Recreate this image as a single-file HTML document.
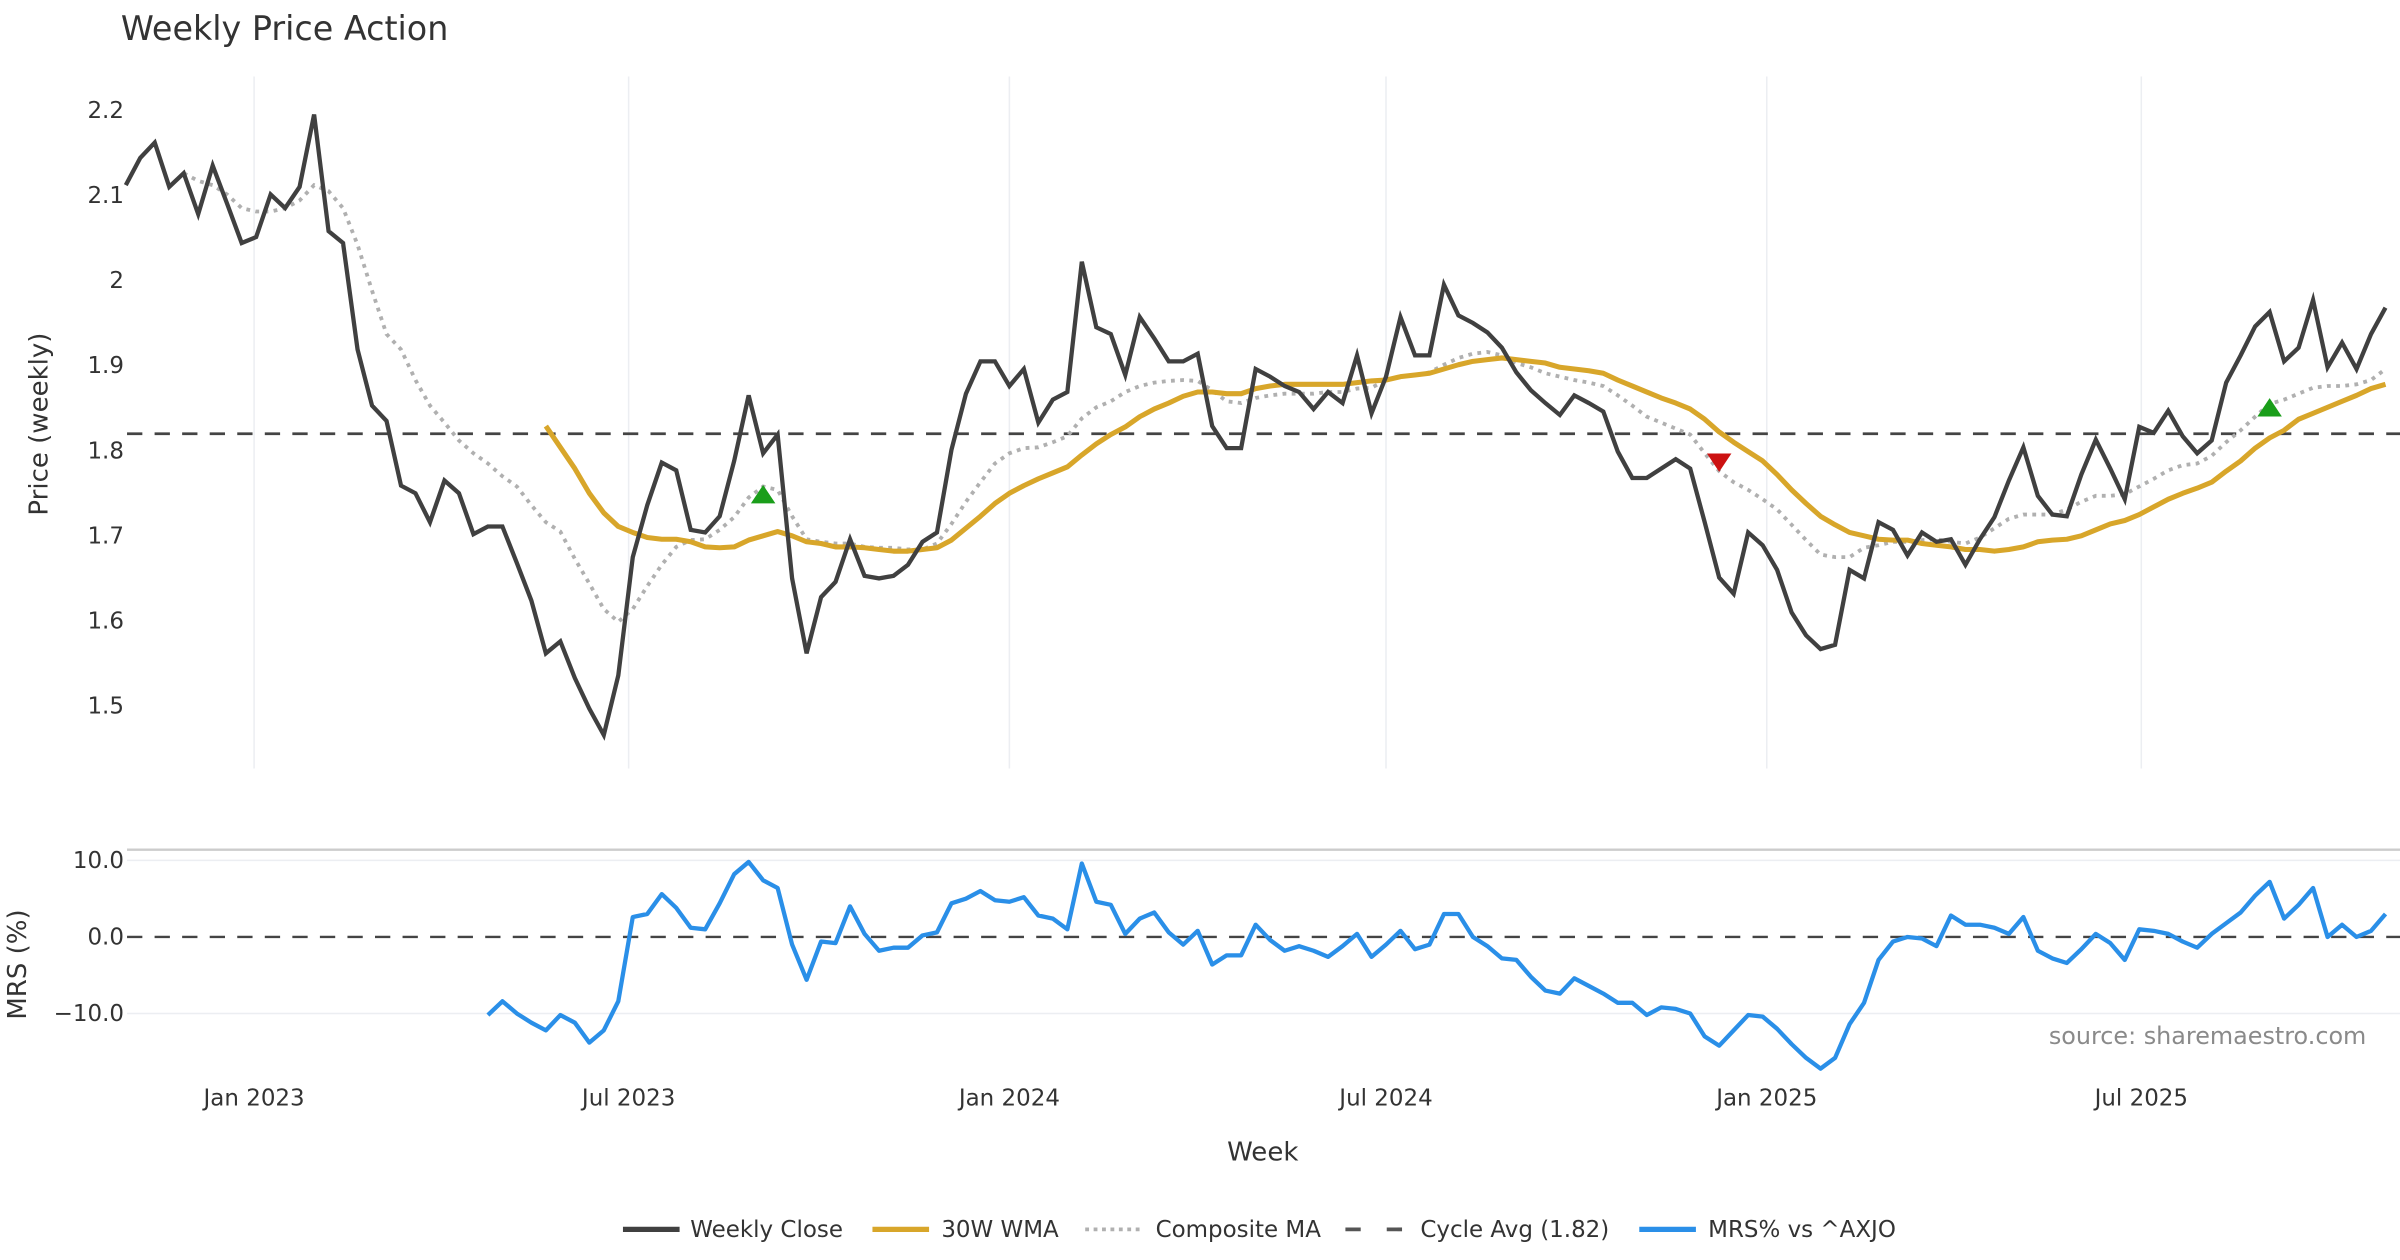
<!DOCTYPE html>
<html><head><meta charset="utf-8"><style>
html,body{margin:0;padding:0;background:#fff;width:2400px;height:1260px;overflow:hidden}
svg{display:block;font-family:"DejaVu Sans","Liberation Sans",sans-serif}
</style></head><body>
<svg id="chart" width="2400" height="1260" viewBox="0 0 1568 823" preserveAspectRatio="none" xmlns="http://www.w3.org/2000/svg">
<text x="79" y="26" font-size="21.8" fill="#333">Weekly Price Action</text>
<text transform="translate(31,277) rotate(-90)" text-anchor="middle" font-size="17" fill="#333">Price (weekly)</text>
<text transform="translate(17,630) rotate(-90)" text-anchor="middle" font-size="17" fill="#333">MRS (%)</text>
<text x="825" y="758" text-anchor="middle" font-size="17" fill="#333">Week</text>
<text x="1546" y="682" text-anchor="end" font-size="15.6" fill="#8a8a8a">source: sharemaestro.com</text>
<g id="grid"></g><g id="series"></g><g id="axes"></g>
<g font-size="15" fill="#333">
<g><line x1="407" y1="803" x2="444" y2="803" stroke="#404040" stroke-width="3.5"/><text x="451" y="808">Weekly Close</text></g>
<g><line x1="570" y1="803" x2="607" y2="803" stroke="#d8a62a" stroke-width="3.5"/><text x="615" y="808">30W WMA</text></g>
<g><line x1="709" y1="803" x2="746" y2="803" stroke="#b0b0b0" stroke-width="2.5" stroke-dasharray="2.5,3"/><text x="755" y="808">Composite MA</text></g>
<g><line x1="879" y1="803" x2="916" y2="803" stroke="#555" stroke-width="2.5" stroke-dasharray="10,17"/><text x="928" y="808">Cycle Avg (1.82)</text></g>
<g><line x1="1071" y1="803" x2="1108" y2="803" stroke="#2a8fe8" stroke-width="3.5"/><text x="1116" y="808">MRS% vs ^AXJO</text></g>
</g>
</svg>
<script>
const closeVals=[2.112,2.144,2.162,2.110,2.126,2.078,2.135,2.090,2.044,2.051,
2.101,2.085,2.110,2.195,2.058,2.044,1.919,1.853,1.835,1.759,
1.750,1.716,1.765,1.750,1.702,1.711,1.711,1.668,1.624,1.562,
1.576,1.533,1.497,1.466,1.536,1.675,1.736,1.786,1.777,1.707,
1.704,1.723,1.788,1.865,1.797,1.819,1.650,1.562,1.628,1.646,
1.696,1.653,1.650,1.653,1.666,1.693,1.704,1.801,1.867,1.905,
1.905,1.876,1.896,1.833,1.860,1.869,2.022,1.945,1.937,1.889,
1.957,1.932,1.905,1.905,1.914,1.829,1.803,1.803,1.896,1.887,
1.876,1.869,1.849,1.869,1.856,1.912,1.844,1.887,1.957,1.912,
1.912,1.995,1.959,1.950,1.939,1.921,1.892,1.871,1.856,1.842,
1.865,1.856,1.846,1.799,1.768,1.768,1.779,1.790,1.779,1.716,
1.651,1.632,1.704,1.689,1.660,1.610,1.583,1.567,1.572,1.660,
1.650,1.716,1.707,1.677,1.704,1.693,1.696,1.666,1.696,1.722,
1.765,1.804,1.747,1.725,1.723,1.772,1.813,1.779,1.743,1.828,
1.821,1.847,1.817,1.797,1.812,1.880,1.912,1.946,1.963,1.905,
1.921,1.977,1.898,1.927,1.896,1.937,1.968];
const compositeVals=[2.126,2.117,2.112,2.101,2.085,2.081,2.081,2.085,2.094,2.112,2.105,2.085,2.042,1.988,1.937,1.919,1.883,1.853,1.833,1.812,1.797,1.785,1.770,1.758,1.736,1.716,1.705,1.673,1.644,1.614,1.599,1.614,1.641,1.666,1.687,1.695,1.696,1.707,1.722,1.745,1.758,1.754,1.723,1.696,1.693,1.691,1.691,1.687,1.686,1.686,1.684,1.684,1.691,1.714,1.740,1.763,1.785,1.797,1.803,1.804,1.810,1.817,1.838,1.851,1.858,1.869,1.876,1.880,1.882,1.883,1.882,1.871,1.858,1.856,1.862,1.865,1.867,1.867,1.867,1.869,1.869,1.873,1.874,1.883,1.887,1.889,1.892,1.901,1.909,1.914,1.916,1.912,1.903,1.898,1.891,1.887,1.883,1.880,1.876,1.865,1.853,1.840,1.833,1.826,1.819,1.797,1.776,1.763,1.754,1.743,1.731,1.713,1.695,1.678,1.675,1.675,1.686,1.689,1.693,1.693,1.695,1.696,1.693,1.691,1.698,1.709,1.720,1.725,1.725,1.725,1.731,1.740,1.747,1.747,1.749,1.758,1.767,1.777,1.783,1.785,1.794,1.810,1.824,1.840,1.855,1.860,1.867,1.874,1.876,1.876,1.878,1.883,1.896];
const wmaVals=[1.829,1.804,1.779,1.750,1.727,1.711,1.704,1.698,1.696,1.696,1.693,1.687,1.686,1.687,1.695,1.700,1.705,1.700,1.693,1.691,1.687,1.687,1.686,1.684,1.682,1.682,1.684,1.686,1.695,1.709,1.723,1.738,1.750,1.759,1.767,1.774,1.781,1.795,1.808,1.819,1.828,1.840,1.849,1.856,1.864,1.869,1.869,1.867,1.867,1.873,1.876,1.878,1.878,1.878,1.878,1.878,1.880,1.882,1.883,1.887,1.889,1.891,1.896,1.901,1.905,1.907,1.909,1.907,1.905,1.903,1.898,1.896,1.894,1.891,1.883,1.876,1.869,1.862,1.856,1.849,1.837,1.822,1.810,1.799,1.788,1.772,1.754,1.738,1.723,1.713,1.704,1.700,1.696,1.695,1.695,1.691,1.689,1.687,1.684,1.684,1.682,1.684,1.687,1.693,1.695,1.696,1.700,1.707,1.714,1.718,1.725,1.734,1.743,1.750,1.756,1.763,1.776,1.788,1.803,1.815,1.824,1.837,1.844,1.851,1.858,1.865,1.873,1.878];
const mrsVals=[-10.2,-8.4,-10,-11.2,-12.2,-10.2,-11.2,-13.8,-12.2,-8.4,
2.6,3,5.6,3.8,1.2,1,4.4,8.2,9.8,7.4,
6.4,-1,-5.6,-0.6,-0.8,4,0.4,-1.8,-1.4,-1.4,
0.2,0.6,4.4,5,6,4.8,4.6,5.2,2.8,2.4,
1,9.6,4.6,4.2,0.4,2.4,3.2,0.6,-1,0.8,
-3.6,-2.4,-2.4,1.6,-0.4,-1.8,-1.2,-1.8,-2.6,-1.2,
0.4,-2.6,-1,0.8,-1.6,-1,3,3,0,-1.2,
-2.8,-3,-5.2,-7,-7.4,-5.4,-6.4,-7.4,-8.6,-8.6,
-10.2,-9.2,-9.4,-10,-13,-14.2,-12.2,-10.2,-10.4,-12,
-14,-15.8,-17.2,-15.8,-11.4,-8.6,-3,-0.6,0,-0.2,
-1.2,2.8,1.6,1.6,1.2,0.4,2.6,-1.8,-2.8,-3.4,
-1.6,0.4,-0.8,-3,1,0.8,0.4,-0.6,-1.4,0.4,
1.8,3.2,5.4,7.2,2.4,4.2,6.4,0,1.6,0,
0.8,3];
const cycleAvg=1.82;
const buyWeeksFromEnd=[112,8];
const buyValues=[1.749,1.851];
const sellWeeksFromEnd=[46];
const sellValues=[1.786];
const priceTicks=[2.2,2.1,2.0,1.9,1.8,1.7,1.6,1.5];
const priceTickLabels=["2.2","2.1","2","1.9","1.8","1.7","1.6","1.5"];
const mrsTicks=[10,0,-10];
const mrsTickLabels=["10.0","0.0","\u221210.0"];
const dateTicks=["2023-01-01","2023-07-01","2024-01-01","2024-07-01","2025-01-01","2025-07-01"];
const dateTickLabels=["Jan 2023","Jul 2023","Jan 2024","Jul 2024","Jan 2025","Jul 2025"];
const endDate="2025-10-27";

const NS="http://www.w3.org/2000/svg";
const DAY=86400000;
const t0=Date.parse("2023-01-01"), t1=Date.parse("2025-07-01");
function xDate(t){return 166+(t-t0)/(t1-t0)*(1399-166);}
function xWeek(fromEnd){return xDate(Date.parse(endDate)-fromEnd*7*DAY);}
function yPrice(v){return 72+(2.2-v)*556;}
function yMrs(v){return 612-v*5;}
function mk(tag,attrs,parent){const e=document.createElementNS(NS,tag);for(const k in attrs)e.setAttribute(k,attrs[k]);parent.appendChild(e);return e;}
const grid=document.getElementById('grid'),series=document.getElementById('series'),axes=document.getElementById('axes');

dateTicks.forEach((d,i)=>{
  const x=xDate(Date.parse(d));
  const g=mk('line',{x1:x,y1:50,x2:x,y2:502,stroke:'#eceef2','stroke-width':1},grid);
  
  
  const t=mk('text',{x:x,y:722,'text-anchor':'middle','font-size':15,fill:'#333'},axes);
  t.textContent=dateTickLabels[i];
  
  
});
priceTicks.forEach((v,i)=>{
  const t=mk('text',{x:81,y:yPrice(v)+5,'text-anchor':'end','font-size':15,fill:'#333'},axes);
  t.textContent=priceTickLabels[i];
  
  
});
const sep=mk('line',{x1:83,y1:555,x2:1568,y2:555,stroke:'#cccccc','stroke-width':1.5},grid);


mrsTicks.forEach((v,i)=>{
  if(v!==0){const g=mk('line',{x1:83,y1:yMrs(v),x2:1568,y2:yMrs(v),stroke:'#eceef2','stroke-width':1},grid);
  
  }
  const t=mk('text',{x:81,y:yMrs(v)+5,'text-anchor':'end','font-size':15,fill:'#333'},axes);
  t.textContent=mrsTickLabels[i];
  
  
});
const z=mk('line',{x1:83,y1:yMrs(0),x2:1568,y2:yMrs(0),stroke:'#444','stroke-width':1.6,'stroke-dasharray':'10,8'},series);


const ca=mk('line',{x1:83,y1:yPrice(cycleAvg),x2:1568,y2:yPrice(cycleAvg),stroke:'#444','stroke-width':1.8,'stroke-dasharray':'10,8'},series);



function pts(vals,yf){const n=vals.length;return vals.map((v,i)=>xWeek(n-1-i).toFixed(2)+','+yf(v).toFixed(2)).join(' ');}
const comp=mk('polyline',{points:pts(compositeVals,yPrice),fill:'none',stroke:'#b0b0b0','stroke-width':2.5,'stroke-dasharray':'2.5,3.5'},series);


const wma=mk('polyline',{points:pts(wmaVals,yPrice),fill:'none',stroke:'#d8a62a','stroke-width':3.3,'stroke-linejoin':'round'},series);


const cl=mk('polyline',{points:pts(closeVals,yPrice),fill:'none',stroke:'#404040','stroke-width':2.8,'stroke-linejoin':'miter'},series);


const mr=mk('polyline',{points:pts(mrsVals,yMrs),fill:'none',stroke:'#2a8fe8','stroke-width':2.8,'stroke-linejoin':'round'},series);



buyWeeksFromEnd.forEach((w,i)=>{
  const x=xWeek(w),y=yPrice(buyValues[i]);
  const p=mk('polygon',{points:`${x-8},${y+6} ${x+8},${y+6} ${x},${y-6}`,fill:'#1a9e1a'},series);
  
  
});
sellWeeksFromEnd.forEach((w,i)=>{
  const x=xWeek(w),y=yPrice(sellValues[i]);
  const p=mk('polygon',{points:`${x-8},${y-6} ${x+8},${y-6} ${x},${y+6}`,fill:'#cc1111'},series);
  
  
});
</script>
</body></html>
